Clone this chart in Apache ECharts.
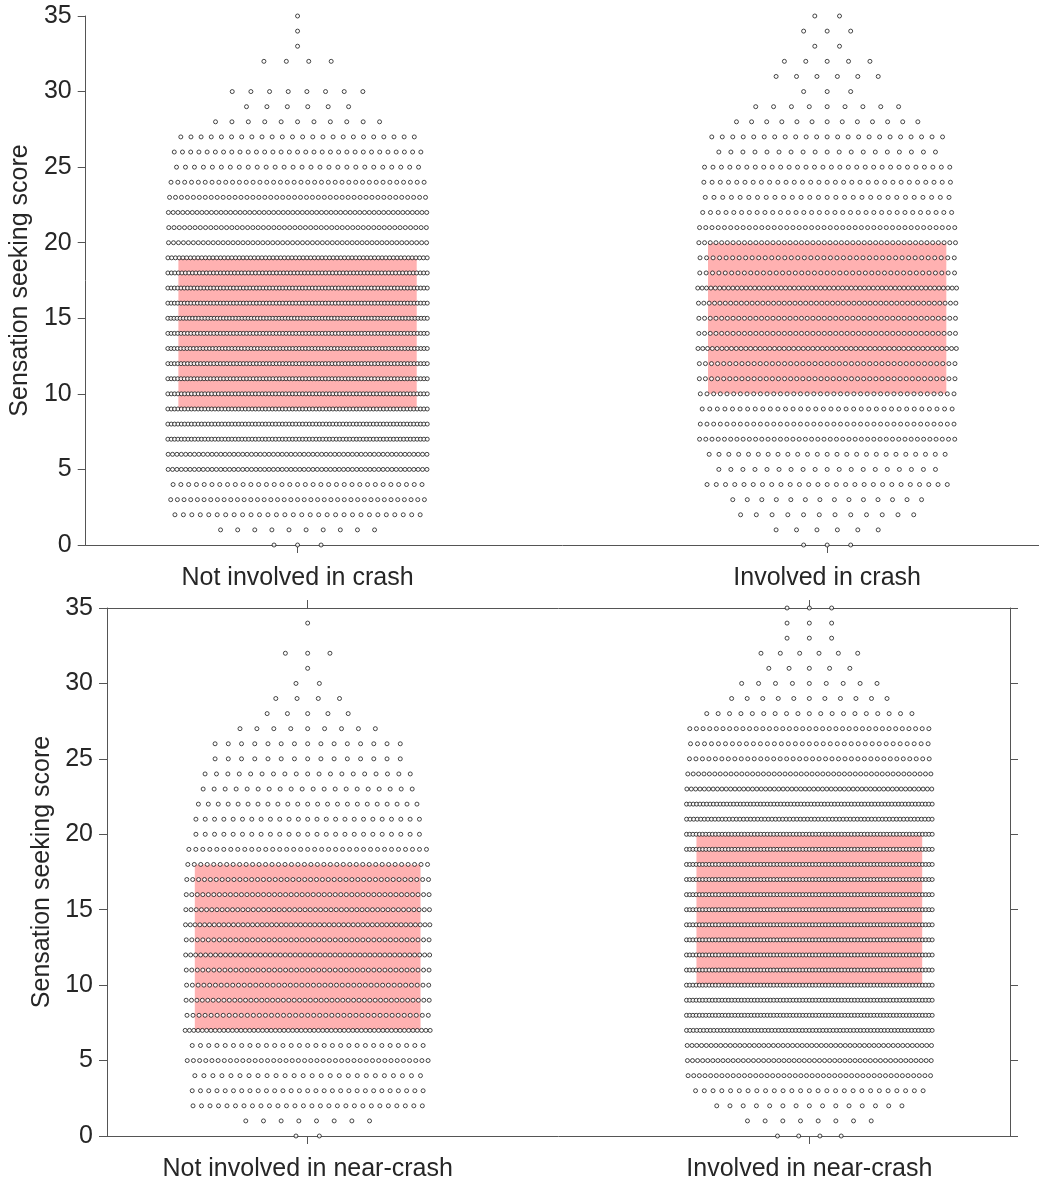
<!DOCTYPE html>
<html lang="en">
<head>
<meta charset="UTF-8">
<title>Sensation seeking score</title>
<script src="https://cdn.jsdelivr.net/npm/echarts@6/dist/echarts.min.js"></script>
<style>
  html, body { margin: 0; background: #fff; }
  #main { width: 1039px; height: 1182px; }
</style>
</head>
<body>
<div id="main"></div>
<script>
// number of drivers at each score 0..35 (index = score)
var crashLabels = ['Not involved in crash', 'Involved in crash'];
var nearLabels = ['Not involved in near-crash', 'Involved in near-crash'];

var notCrashCounts = [3, 10, 30, 39, 33, 60, 60, 78, 78, 78, 78, 80, 80, 82, 80, 85, 80, 80, 75, 70,
                      53, 50, 55, 44, 38, 28, 31, 24, 11, 6, 8, 0, 4, 1, 1, 1];
var crashCounts = [3, 6, 12, 14, 27, 19, 25, 42, 39, 34, 39, 43, 43, 55, 46, 46, 49, 60, 41, 40,
                   46, 42, 33, 29, 31, 30, 19, 23, 13, 9, 3, 6, 5, 2, 3, 2];
var notNearCounts = [2, 8, 28, 29, 26, 40, 29, 58, 41, 46, 43, 45, 50, 45, 52, 48, 45, 42, 38, 35,
                     25, 25, 23, 20, 19, 15, 15, 9, 5, 4, 2, 1, 3, 0, 1, 0];
var nearCounts = [4, 8, 15, 27, 44, 49, 52, 73, 77, 77, 77, 77, 77, 77, 77, 77, 77, 77, 77, 77,
                  77, 70, 74, 57, 46, 38, 35, 37, 19, 11, 9, 5, 6, 3, 3, 3];

// interquartile range [Q1, Q3] per group
var crashQuartiles = [[9, 19], [10, 20]];
var nearQuartiles = [[7, 18], [10, 20]];

var yTicks = [0, 5, 10, 15, 20, 25, 30, 35];

var SPREAD = 0.49;     // max horizontal spread of one row (x units)
var BOX_HALF = 0.225;  // half width of the IQR box
var FONT = 'Liberation Sans, Arial, Helvetica, sans-serif';
var TXT = '#262626';
var LINE = '#555';

function spread(counts, center) {
  var pts = [];
  counts.forEach(function (n, score) {
    if (!n) return;
    var span = SPREAD * (1 - Math.exp(-(n - 1) / 10));
    for (var i = 0; i < n; i++) {
      var x = n > 1 ? center - span / 2 + i * span / (n - 1) : center;
      pts.push([x, score]);
    }
  });
  return pts;
}

function xAxis(grid, labels, pos, showLabels) {
  return {
    type: 'value', gridIndex: grid, position: pos, min: 0.6, max: 2.4,
    splitLine: { show: false },
    axisLine: { show: true, onZero: false, lineStyle: { color: LINE, width: 1 } },
    axisTick: { show: true, inside: false, length: 8, customValues: [1, 2], lineStyle: { color: LINE } },
    axisLabel: {
      show: showLabels, customValues: [1, 2], margin: 21,
      color: TXT, fontSize: 25, fontFamily: FONT,
      formatter: function (v) { return labels[Math.round(v) - 1] || ''; }
    }
  };
}

function yAxis(grid, pos, showLabels, name) {
  return {
    type: 'value', gridIndex: grid, position: pos, min: 0, max: 35, interval: 5,
    name: name, nameLocation: 'middle', nameGap: 46, nameRotate: 90,
    nameTextStyle: { color: TXT, fontSize: 25, fontFamily: FONT },
    splitLine: { show: false },
    axisLine: { show: true, lineStyle: { color: LINE, width: 1 } },
    axisTick: { show: true, inside: false, length: 8, lineStyle: { color: LINE } },
    axisLabel: { show: showLabels, margin: 14, color: TXT, fontSize: 25, fontFamily: FONT }
  };
}

function boxSeries(xi, yi, quartiles) {
  return {
    type: 'custom', xAxisIndex: xi, yAxisIndex: yi, z: 1, silent: true,
    data: quartiles.map(function (q, i) { return [i + 1, q[0], q[1]]; }),
    renderItem: function (params, api) {
      var p0 = api.coord([api.value(0) - BOX_HALF, api.value(2)]);
      var p1 = api.coord([api.value(0) + BOX_HALF, api.value(1)]);
      return {
        type: 'rect',
        shape: { x: p0[0], y: p0[1], width: p1[0] - p0[0], height: p1[1] - p0[1] },
        style: { fill: '#ffb1b1' }
      };
    }
  };
}

function dots(xi, yi, data) {
  return {
    type: 'scatter', xAxisIndex: xi, yAxisIndex: yi, z: 3, silent: true,
    symbol: 'circle', symbolSize: 4, data: data,
    itemStyle: { color: '#ffffff', borderColor: '#1a1a1a', borderWidth: 1 }
  };
}

var chart = echarts.init(document.getElementById('main'), null, { renderer: 'canvas' });

var option = {
  animation: false,
  backgroundColor: '#fff',
  grid: [
    { left: 85, top: 16, width: 961, height: 529 },
    { left: 107, top: 608, width: 903, height: 529 }
  ],
  xAxis: [
    xAxis(0, crashLabels, 'bottom', true),
    xAxis(1, nearLabels, 'bottom', true),
    xAxis(1, nearLabels, 'top', false)
  ],
  yAxis: [
    yAxis(0, 'left', true, 'Sensation seeking score'),
    yAxis(1, 'left', true, 'Sensation seeking score'),
    yAxis(1, 'right', false, '')
  ],
  series: [
    boxSeries(0, 0, crashQuartiles),
    dots(0, 0, spread(notCrashCounts, 1).concat(spread(crashCounts, 2))),
    boxSeries(1, 1, nearQuartiles),
    dots(1, 1, spread(notNearCounts, 1).concat(spread(nearCounts, 2)))
  ]
};

chart.setOption(option);
</script>
</body>
</html>
